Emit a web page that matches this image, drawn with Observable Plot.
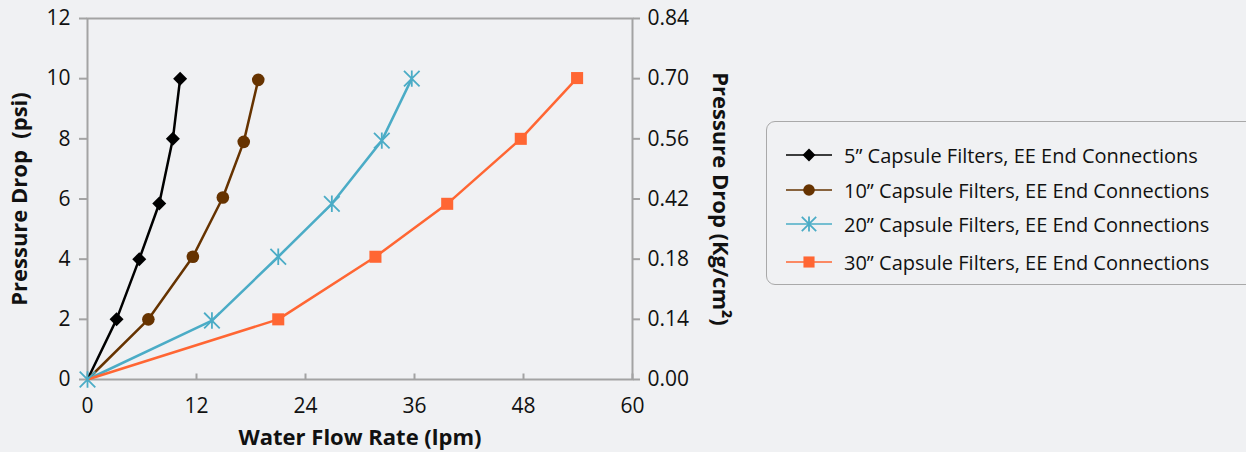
<!DOCTYPE html>
<html>
<head>
<meta charset="utf-8">
<script src="https://cdn.jsdelivr.net/npm/d3@7"></script>
<script src="https://cdn.jsdelivr.net/npm/@observablehq/plot@0.6"></script>
<style>
  html, body { margin: 0; padding: 0; background: #f0f1f3; }
  #wrap { position: relative; width: 1246px; height: 452px; overflow: hidden; font-family: "Open Sans", sans-serif; }
  #legend { position: absolute; left: 766px; top: 121px; width: 540px; height: 164px; box-sizing: border-box;
            border: 1.5px solid #a9a9a9; border-radius: 9px; }
  .row { position: absolute; left: 0; height: 30px; display: flex; align-items: center; white-space: nowrap;
         font-size: 20px; color: #111; }
  .row svg { margin-left: 18px; margin-right: 11px; }
</style>
</head>
<body>
<div id="wrap"><div id="legend"></div></div>
<script>
// ---- data ----
const seriesNames = [
  "5\u201D Capsule Filters, EE End Connections",
  "10\u201D Capsule Filters, EE End Connections",
  "20\u201D Capsule Filters, EE End Connections",
  "30\u201D Capsule Filters, EE End Connections"
];
const seriesColors = ["#000000", "#663300", "#4bacc6", "#ff6633"];

const flow5  = [0, 3.2, 5.7, 7.9, 9.4, 10.2];
const psi5   = [0, 2.0, 4.0, 5.85, 8.0, 10.0];
const flow10 = [0, 6.7, 11.6, 14.9, 17.2, 18.8];
const psi10  = [0, 2.0, 4.08, 6.05, 7.9, 9.96];
const flow20 = [0, 13.7, 21.0, 26.9, 32.4, 35.7];
const psi20  = [0, 1.96, 4.08, 5.84, 7.94, 10.0];
const flow30 = [0, 21.0, 31.7, 39.6, 47.7, 53.9];
const psi30  = [0, 2.0, 4.08, 5.84, 8.0, 10.02];

const xTicks = [0, 12, 24, 36, 48, 60];
const yTicks = [0, 2, 4, 6, 8, 10, 12];
const rightTickLabels = ["0.00", "0.14", "0.18", "0.42", "0.56", "0.70", "0.84"];

const xTitle = "Water Flow Rate (lpm)";
const yTitle = "Pressure Drop  (psi)";
const y2Title = "Pressure Drop (Kg/cm\u00B2)";

// ---- build table ----
const flows = [flow5, flow10, flow20, flow30];
const psis = [psi5, psi10, psi20, psi30];
const rows = [];
flows.forEach((f, s) => f.forEach((v, i) => rows.push({series: seriesNames[s], s, flow: v, psi: psis[s][i], i})));

// ---- custom symbols ----
const diamondSym = {draw(ctx, size) { const r = Math.sqrt(size / Math.PI); ctx.moveTo(0, -r); ctx.lineTo(r, 0); ctx.lineTo(0, r); ctx.lineTo(-r, 0); ctx.closePath(); }};
const asteriskSym = {draw(ctx, size) { const r = Math.sqrt(size / Math.PI); const d = r * 0.95;
  ctx.moveTo(-d, -d); ctx.lineTo(d, d); ctx.moveTo(-d, d); ctx.lineTo(d, -d); ctx.moveTo(0, -r); ctx.lineTo(0, r); }};
const tickUpSym = {draw(ctx, size) { ctx.moveTo(0, 0); ctx.lineTo(0, -6); }};

const markerSpecs = [
  {symbol: diamondSym, r: 7, fill: seriesColors[0], stroke: "none"},
  {symbol: "circle", r: 6.3, fill: seriesColors[1], stroke: "none"},
  {symbol: asteriskSym, r: 8.2, fill: "none", stroke: seriesColors[2], strokeWidth: 1.8},
  {symbol: "square", r: 6.8, fill: seriesColors[3], stroke: "none"}
];

const axisGrey = "#a3a3a3";
const titleStyle = {lineAnchor: "middle", textAnchor: "middle", fontWeight: "bold", fontSize: 22, fill: "#111"};
const marks = [
  Plot.frame({stroke: axisGrey, strokeWidth: 2}),
  Plot.axisY(yTicks, {anchor: "left", tickSize: 8, tickPadding: 9, stroke: axisGrey, strokeWidth: 2, fill: "#111", fontSize: 21, label: null}),
  Plot.axisY(yTicks, {anchor: "right", tickSize: 7, tickPadding: 8, stroke: axisGrey, strokeWidth: 2, fill: "#111", fontSize: 21, label: null,
    tickFormat: d => rightTickLabels[yTicks.indexOf(d)]}),
  Plot.axisX(xTicks, {anchor: "bottom", tickSize: 0, tickPadding: 19, fill: "#111", fontSize: 21, label: null}),
  Plot.dot(xTicks, {x: d => d, y: yTicks[0], symbol: tickUpSym, fill: "none", stroke: axisGrey, strokeWidth: 2}),
  Plot.text([xTitle], {frameAnchor: "bottom", dy: 58, ...titleStyle}),
  Plot.text([yTitle], {frameAnchor: "left", dx: -68, rotate: -90, ...titleStyle}),
  Plot.text([y2Title], {frameAnchor: "right", dx: 88, rotate: 90, ...titleStyle})
];

seriesNames.forEach((name, s) => {
  const data = rows.filter(d => d.s === s);
  marks.push(Plot.line(data, {x: "flow", y: "psi", stroke: seriesColors[s], strokeWidth: 2.5}));
});
seriesNames.forEach((name, s) => {
  const data = rows.filter(d => d.s === s && (d.flow > 0 || s === 2));
  const m = markerSpecs[s];
  marks.push(Plot.dot(data, {x: "flow", y: "psi", ...m}));
});

const chart = Plot.plot({
  width: 1246, height: 452,
  marginLeft: 87, marginRight: 614, marginTop: 18, marginBottom: 73,
  style: {background: "transparent", fontFamily: "'Open Sans', sans-serif", color: "#111", overflow: "visible"},
  x: {domain: [0, 60]},
  y: {domain: [0, 12]},
  marks
});
document.getElementById("wrap").prepend(chart);

// ---- legend ----
const legend = document.getElementById("legend");
const rowTops = [33, 68, 102, 140];
seriesNames.forEach((name, s) => {
  const row = document.createElement("div");
  row.className = "row";
  row.style.top = (rowTops[s] - 15) + "px";
  const svg = d3.create("svg").attr("width", 48).attr("height", 30);
  svg.append("line").attr("x1", 1).attr("x2", 47).attr("y1", 15).attr("y2", 15)
     .attr("stroke", seriesColors[s]).attr("stroke-width", 1.6);
  const m = markerSpecs[s];
  const type = m.symbol === "circle" ? d3.symbolCircle : m.symbol === "square" ? d3.symbolSquare : m.symbol;
  svg.append("path").attr("transform", "translate(24,15)")
     .attr("d", d3.symbol(type, Math.PI * m.r * m.r * 0.85)())
     .attr("fill", m.fill).attr("stroke", m.stroke).attr("stroke-width", m.strokeWidth || 0);
  row.appendChild(svg.node());
  const span = document.createElement("span");
  span.textContent = name;
  row.appendChild(span);
  legend.appendChild(row);
});
</script>
</body>
</html>
